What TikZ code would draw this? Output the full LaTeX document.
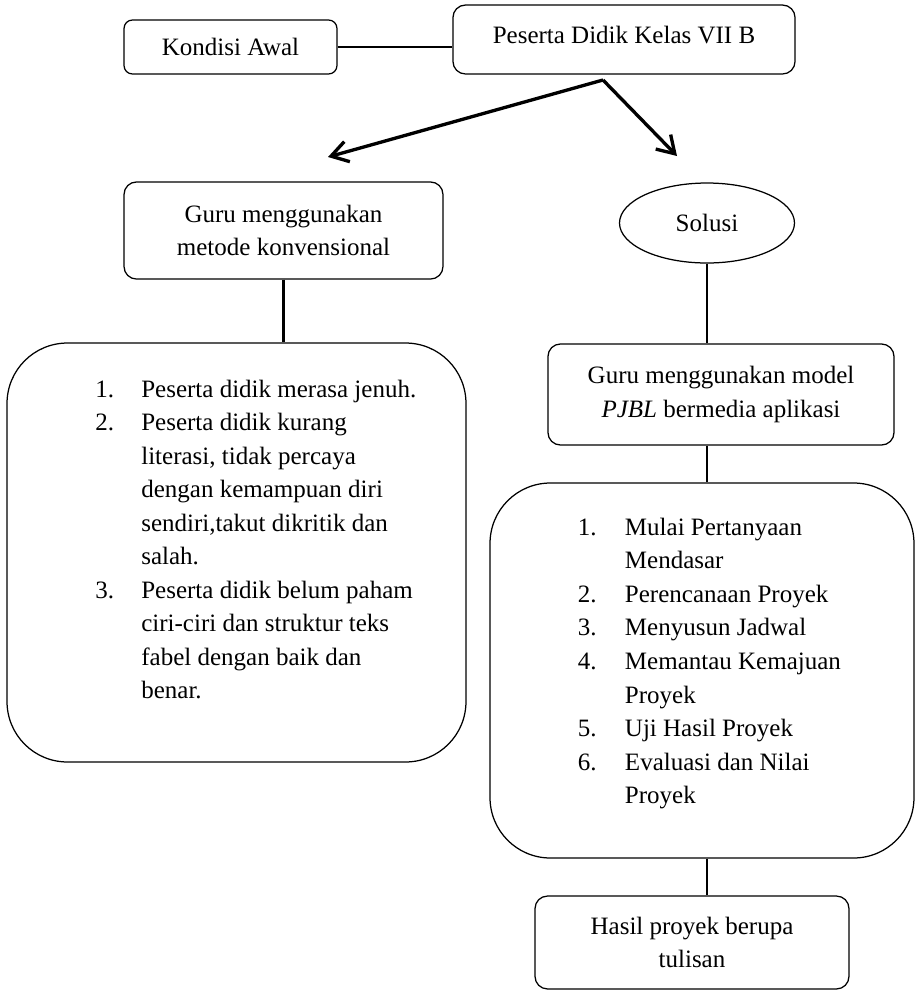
\documentclass[tikz,border=0pt]{standalone}
\usepackage{fontspec}
\setmainfont{Liberation Serif}
\usetikzlibrary{arrows.meta, positioning, shapes.geometric}

\begin{document}
\begin{tikzpicture}[
    x=0.48pt, y=-0.48pt,
    font=\fontsize{12}{16.1}\selectfont,
    box/.style={draw, rounded corners=6pt, align=center, semithick, inner sep=0pt},
    listbox/.style={draw, rounded corners=29pt, semithick, inner sep=0pt},
    oval/.style={draw, ellipse, semithick, inner sep=0pt},
    link/.style={line width=1pt},
    arrow/.style={-{Straight Barb[length=8pt, width=10pt]}, line width=1.6pt}
]
\useasboundingbox (0,0) rectangle (916,992);

\node[box, rounded corners=4pt, minimum width=102.2pt, minimum height=25.9pt] (kondisi) at (230.5,47) {Kondisi Awal};
\node[box, minimum width=164.2pt, minimum height=33.1pt, text depth=4.4pt] (peserta) at (624,39.5) {Peserta Didik Kelas VII B};

\node[box, minimum width=153.1pt, minimum height=46.6pt] (konv) at (283.5,230.5) {Guru menggunakan\\metode konvensional};
\node[oval, minimum width=84pt, minimum height=38.4pt] (solusi) at (707,223) {Solusi};

\node[listbox, minimum width=220.3pt, minimum height=201.1pt] (masalah) at (236.5,552.5) {%
\begin{tabular}{@{\hspace{18.5pt}}p{22.1pt}@{}l@{}}
1. & Peserta didik merasa jenuh.\\
2. & Peserta didik kurang\\
 & literasi, tidak percaya\\
 & dengan kemampuan diri\\
 & sendiri,takut dikritik dan\\
 & salah.\\
3. & Peserta didik belum paham\\
 & ciri-ciri dan struktur teks\\
 & fabel dengan baik dan\\
 & benar.\\[10.8pt]
\end{tabular}};

\node[box, minimum width=166.1pt, minimum height=48.5pt] (pjbl) at (721,394.5) {Guru menggunakan model\\\textit{PJBL} bermedia aplikasi};

\node[listbox, minimum width=203.5pt, minimum height=180pt] (sintaks) at (702,670.5) {%
\begin{tabular}{@{\hspace{7.1pt}}p{22.6pt}@{}l@{}}
1. & Mulai Pertanyaan\\
 & Mendasar\\
2. & Perencanaan Proyek\\
3. & Menyusun Jadwal\\
4. & Memantau Kemajuan\\
 & Proyek\\
5. & Uji Hasil Proyek\\
6. & Evaluasi dan Nilai\\
 & Proyek\\[7.4pt]
\end{tabular}};

\node[box, minimum width=150.7pt, minimum height=44.6pt] (hasil) at (692,942.5) {Hasil proyek berupa\\tulisan};

\coordinate (fork) at (603,80);
\coordinate (kiri) at (328,157);
\coordinate (kanan) at (677,156);

\draw[link] (kondisi.east) -- (kondisi.east -| peserta.west);
\draw[arrow] (fork) -- (kiri);
\draw[arrow] (fork) -- (kanan);
\draw[link] (konv.south) -- (konv.south |- masalah.north);
\draw[link] (solusi.south) -- (solusi.south |- pjbl.north);
\draw[link] (pjbl.south -| solusi.south) -- (sintaks.north -| solusi.south);
\draw[link] (sintaks.south -| solusi.south) -- (hasil.north -| solusi.south);

\end{tikzpicture}
\end{document}
